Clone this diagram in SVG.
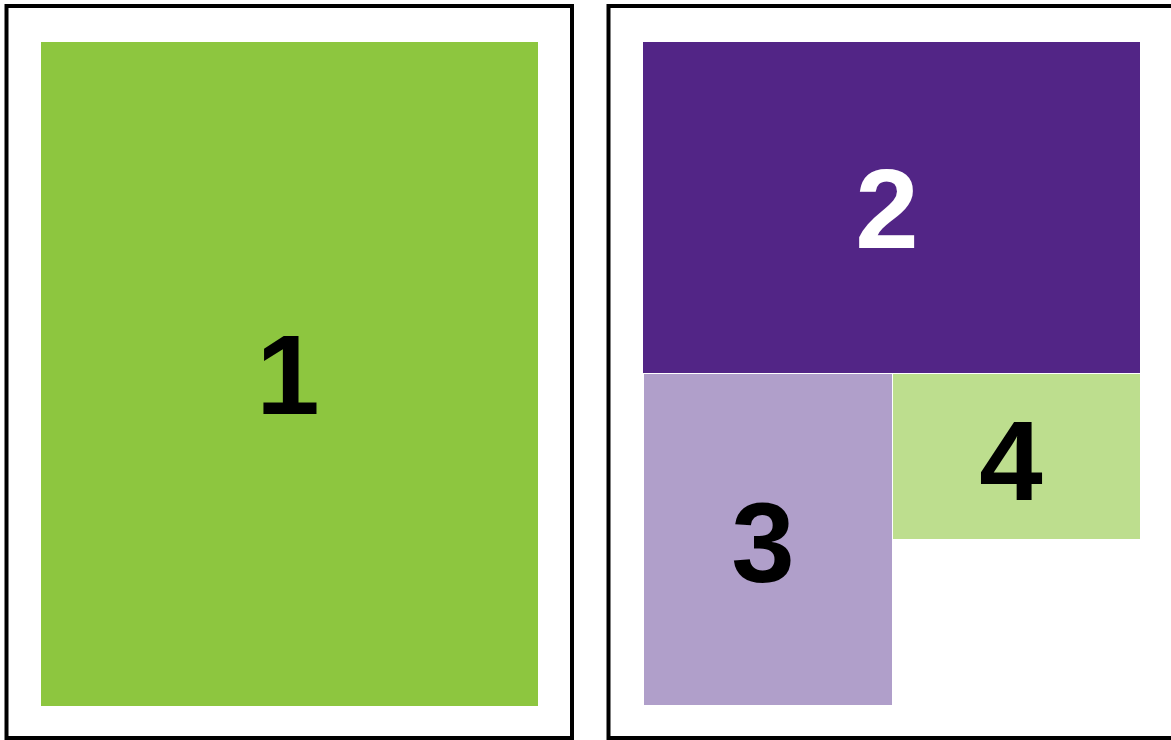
<svg xmlns="http://www.w3.org/2000/svg" width="1171" height="740" viewBox="0 0 1171 740">
<style>
.frame{fill:none;stroke:#000;stroke-width:4}
.num{font-family:"Liberation Sans",Arial,sans-serif;font-weight:bold;font-size:114px;text-anchor:middle}
</style>
<rect width="1171" height="740" fill="#fff"/>
<g id="frame-left"><rect class="frame" x="6.5" y="6" width="565.5" height="732"/></g>
<g id="frame-right"><rect class="frame" x="608.5" y="6" width="600" height="732"/></g>
<g id="node1">
<rect x="41" y="42" width="497" height="664" fill="#8DC63F"/>
<text class="num" x="288" y="414" fill="#000">1</text>
</g>
<g id="node2">
<rect x="643" y="42" width="497" height="331" fill="#522586"/>
<text class="num" x="887" y="248" fill="#fff">2</text>
</g>
<g id="node3">
<rect x="644" y="374" width="248" height="331" fill="#B09FCA"/>
<text class="num" x="763" y="582" fill="#000">3</text>
</g>
<g id="node4">
<rect x="893" y="374" width="247" height="165" fill="#BDDE8E"/>
<text class="num" x="1011" y="500" fill="#000">4</text>
</g>
<g id="connectors"></g>
</svg>
